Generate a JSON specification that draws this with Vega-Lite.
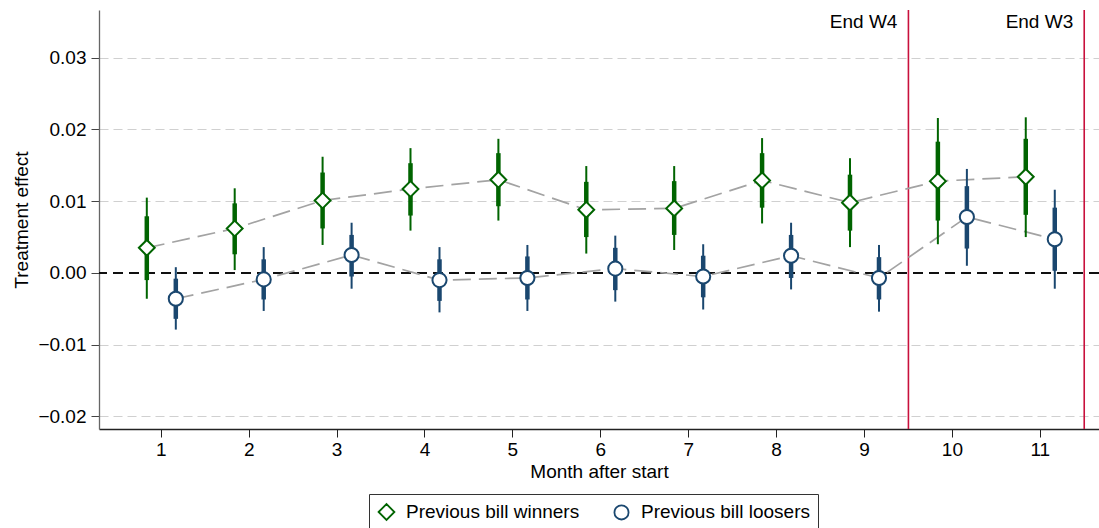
{
  "$schema": "https://vega.github.io/schema/vega-lite/v6.json",
  "width": 1000,
  "height": 419,
  "autosize": {"type": "none"},
  "padding": {"left": 99, "top": 10, "right": 0, "bottom": 99},
  "background": "white",
  "config": {"view": {"stroke": null}, "font": "Liberation Sans"},
  "datasets": {
    "effects": [
      {"month": 1, "group": "Previous bill winners", "est": 0.0035, "lo_inner": -0.0010, "hi_inner": 0.0079, "lo_outer": -0.0036, "hi_outer": 0.0105},
      {"month": 2, "group": "Previous bill winners", "est": 0.0062, "lo_inner": 0.0026, "hi_inner": 0.0097, "lo_outer": 0.0004, "hi_outer": 0.0118},
      {"month": 3, "group": "Previous bill winners", "est": 0.0101, "lo_inner": 0.0062, "hi_inner": 0.0140, "lo_outer": 0.0039, "hi_outer": 0.0162},
      {"month": 4, "group": "Previous bill winners", "est": 0.0117, "lo_inner": 0.0080, "hi_inner": 0.0153, "lo_outer": 0.0059, "hi_outer": 0.0174},
      {"month": 5, "group": "Previous bill winners", "est": 0.0130, "lo_inner": 0.0093, "hi_inner": 0.0167, "lo_outer": 0.0073, "hi_outer": 0.0187},
      {"month": 6, "group": "Previous bill winners", "est": 0.0088, "lo_inner": 0.0050, "hi_inner": 0.0127, "lo_outer": 0.0027, "hi_outer": 0.0149},
      {"month": 7, "group": "Previous bill winners", "est": 0.0090, "lo_inner": 0.0053, "hi_inner": 0.0128, "lo_outer": 0.0032, "hi_outer": 0.0149},
      {"month": 8, "group": "Previous bill winners", "est": 0.0129, "lo_inner": 0.0091, "hi_inner": 0.0167, "lo_outer": 0.0069, "hi_outer": 0.0188},
      {"month": 9, "group": "Previous bill winners", "est": 0.0098, "lo_inner": 0.0059, "hi_inner": 0.0137, "lo_outer": 0.0036, "hi_outer": 0.0160},
      {"month": 10, "group": "Previous bill winners", "est": 0.0128, "lo_inner": 0.0073, "hi_inner": 0.0183, "lo_outer": 0.0040, "hi_outer": 0.0216},
      {"month": 11, "group": "Previous bill winners", "est": 0.0134, "lo_inner": 0.0081, "hi_inner": 0.0187, "lo_outer": 0.0050, "hi_outer": 0.0217},
      {"month": 1, "group": "Previous bill loosers", "est": -0.0036, "lo_inner": -0.0064, "hi_inner": -0.0008, "lo_outer": -0.0079, "hi_outer": 0.0008},
      {"month": 2, "group": "Previous bill loosers", "est": -0.0009, "lo_inner": -0.0037, "hi_inner": 0.0019, "lo_outer": -0.0053, "hi_outer": 0.0036},
      {"month": 3, "group": "Previous bill loosers", "est": 0.0025, "lo_inner": -0.0005, "hi_inner": 0.0053, "lo_outer": -0.0022, "hi_outer": 0.0070},
      {"month": 4, "group": "Previous bill loosers", "est": -0.0010, "lo_inner": -0.0039, "hi_inner": 0.0019, "lo_outer": -0.0055, "hi_outer": 0.0036},
      {"month": 5, "group": "Previous bill loosers", "est": -0.0007, "lo_inner": -0.0037, "hi_inner": 0.0023, "lo_outer": -0.0053, "hi_outer": 0.0039},
      {"month": 6, "group": "Previous bill loosers", "est": 0.0006, "lo_inner": -0.0024, "hi_inner": 0.0035, "lo_outer": -0.0040, "hi_outer": 0.0052},
      {"month": 7, "group": "Previous bill loosers", "est": -0.0005, "lo_inner": -0.0034, "hi_inner": 0.0024, "lo_outer": -0.0051, "hi_outer": 0.0040},
      {"month": 8, "group": "Previous bill loosers", "est": 0.0024, "lo_inner": -0.0007, "hi_inner": 0.0053, "lo_outer": -0.0023, "hi_outer": 0.0070},
      {"month": 9, "group": "Previous bill loosers", "est": -0.0007, "lo_inner": -0.0037, "hi_inner": 0.0022, "lo_outer": -0.0054, "hi_outer": 0.0039},
      {"month": 10, "group": "Previous bill loosers", "est": 0.0078, "lo_inner": 0.0034, "hi_inner": 0.0121, "lo_outer": 0.0010, "hi_outer": 0.0145},
      {"month": 11, "group": "Previous bill loosers", "est": 0.0047, "lo_inner": 0.0003, "hi_inner": 0.0091, "lo_outer": -0.0022, "hi_outer": 0.0116}
    ],
    "waves": [
      {"month": 9, "label": "End W4"},
      {"month": 11, "label": "End W3"}
    ]
  },
  "layer": [
    {
      "data": {"name": "effects"},
      "mark": {"type": "rule", "color": "#111111", "strokeDash": [10, 6], "strokeWidth": 1.4},
      "encoding": {
        "y": {
          "datum": 0,
          "type": "quantitative",
          "scale": {"domain": [-0.02176, 0.03666], "nice": false, "zero": false},
          "axis": {
            "values": [-0.02, -0.01, 0, 0.01, 0.02, 0.03],
            "format": ".2f",
            "labelFontSize": 19,
            "labelColor": "#000000",
            "labelPadding": 5,
            "tickSize": 8,
            "tickColor": "#444444",
            "domainColor": "#666666",
            "domainWidth": 1.3,
            "grid": true,
            "gridColor": "#d0d0d0",
            "gridDash": [9, 5],
            "gridWidth": 1.2,
            "gridOpacity": {"condition": {"test": "datum.value === 0", "value": 0}, "value": 1},
            "title": "Treatment effect",
            "titleFontSize": 19,
            "titleFontWeight": "normal",
            "titleColor": "#000000",
            "titleX": -72,
            "titleBaseline": "alphabetic"
          }
        }
      }
    },
    {
      "data": {"name": "waves"},
      "mark": {"type": "rule", "color": "#c8103c", "strokeWidth": 1.6},
      "encoding": {
        "x": {
          "field": "month",
          "type": "ordinal",
          "bandPosition": 1,
          "scale": {"type": "band", "domain": [1, 2, 3, 4, 5, 6, 7, 8, 9, 10, 11], "paddingInner": 0, "paddingOuter": 0.1885, "align": 0.554},
          "axis": {
            "labelAngle": 0,
            "labelFontSize": 19,
            "labelColor": "#000000",
            "labelPadding": 3,
            "tickSize": 8,
            "tickColor": "#222222",
            "domainColor": "#222222",
            "domainWidth": 1.3,
            "bandPosition": 0.5,
            "grid": false,
            "title": "Month after start",
            "titleFontSize": 19,
            "titleFontWeight": "normal",
            "titleColor": "#000000",
            "titleY": 48,
            "titleBaseline": "alphabetic"
          }
        }
      }
    },
    {
      "data": {"name": "waves"},
      "mark": {"type": "text", "align": "right", "baseline": "middle", "dx": -11, "fontSize": 19, "color": "#000000"},
      "encoding": {
        "x": {"field": "month", "type": "ordinal", "bandPosition": 1},
        "y": {"datum": 0.035, "type": "quantitative"},
        "text": {"field": "label"}
      }
    },
    {
      "data": {"name": "effects"},
      "mark": {"type": "line", "color": "#a3a3a3", "strokeDash": [18, 8], "strokeWidth": 1.7},
      "encoding": {
        "x": {"field": "month", "type": "ordinal"},
        "xOffset": {"field": "group", "type": "nominal", "scale": {"domain": ["Previous bill winners", "Previous bill loosers"], "paddingInner": 0, "paddingOuter": 0.515}},
        "y": {"field": "est", "type": "quantitative"},
        "detail": {"field": "group"}
      }
    },
    {
      "data": {"name": "effects"},
      "mark": {"type": "rule", "strokeWidth": 2},
      "encoding": {
        "x": {"field": "month", "type": "ordinal"},
        "xOffset": {"field": "group", "type": "nominal"},
        "y": {"field": "lo_outer", "type": "quantitative"},
        "y2": {"field": "hi_outer"},
        "stroke": {"field": "group", "type": "nominal"}
      }
    },
    {
      "data": {"name": "effects"},
      "mark": {"type": "rule", "strokeWidth": 4.5},
      "encoding": {
        "x": {"field": "month", "type": "ordinal"},
        "xOffset": {"field": "group", "type": "nominal"},
        "y": {"field": "lo_inner", "type": "quantitative"},
        "y2": {"field": "hi_inner"},
        "stroke": {"field": "group", "type": "nominal"}
      }
    },
    {
      "data": {"name": "effects"},
      "mark": {"type": "point", "filled": true, "fill": "white", "strokeWidth": 2, "opacity": 1},
      "encoding": {
        "x": {"field": "month", "type": "ordinal"},
        "xOffset": {"field": "group", "type": "nominal"},
        "y": {"field": "est", "type": "quantitative"},
        "size": {
          "field": "group",
          "type": "nominal",
          "scale": {"domain": ["Previous bill winners", "Previous bill loosers"], "range": [250, 200]},
          "legend": null
        },
        "stroke": {
          "field": "group",
          "type": "nominal",
          "scale": {"domain": ["Previous bill winners", "Previous bill loosers"], "range": ["#006400", "#1a476f"]},
          "legend": {
            "orient": "none", "legendX": 270, "legendY": 484, "direction": "horizontal", "title": null,
            "labelFontSize": 19, "labelColor": "#000000", "labelLimit": 400, "symbolSize": 150, "symbolStrokeWidth": 1.8, "symbolFillColor": "white",
            "padding": 8, "strokeColor": "#333333", "fillColor": "white", "columnPadding": 30, "labelOffset": 10
          }
        },
        "shape": {
          "field": "group",
          "type": "nominal",
          "scale": {"domain": ["Previous bill winners", "Previous bill loosers"], "range": ["diamond", "circle"]},
          "legend": {
            "orient": "none", "legendX": 270, "legendY": 484, "direction": "horizontal", "title": null,
            "labelFontSize": 19, "labelColor": "#000000", "labelLimit": 400, "symbolSize": 150, "symbolStrokeWidth": 1.8, "symbolFillColor": "white",
            "padding": 8, "strokeColor": "#333333", "fillColor": "white", "columnPadding": 30, "labelOffset": 10
          }
        }
      }
    }
  ]
}
